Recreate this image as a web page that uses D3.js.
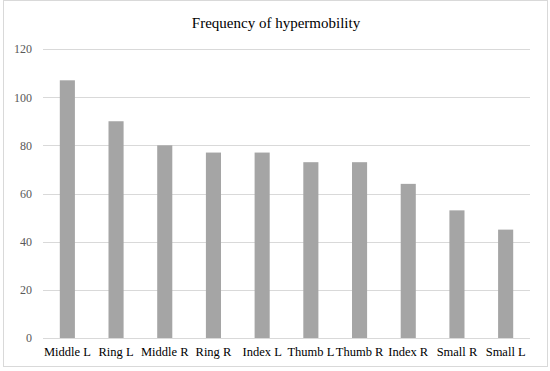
<!DOCTYPE html>
<html>
<head>
<meta charset="utf-8">
<script src="https://d3js.org/d3.v7.min.js"></script>
<style>
body { margin: 0; background: #fff; }
text { font-family: "Liberation Serif", "Times New Roman", serif; }
</style>
</head>
<body>
<div id="chart"></div>
<script>
var width = 550;
var height = 371;

var fingers = ['Middle L', 'Ring L', 'Middle R', 'Ring R', 'Index L', 'Thumb L', 'Thumb R', 'Index R', 'Small R', 'Small L'];
var frequency = [107, 90, 80, 77, 77, 73, 73, 64, 53, 45];
var y_ticks = [0, 20, 40, 60, 80, 100, 120];

var margin = {left: 43, right: 20, top: 49, bottom: 33};

var svg = d3.select('#chart')
	.append('svg')
	.attr('width', width)
	.attr('height', height);

// outer frame
svg.append('rect')
	.attr('x', 3.5)
	.attr('y', 0.5)
	.attr('width', 544)
	.attr('height', 366)
	.attr('fill', 'none')
	.attr('stroke', '#d9d9d9');

var x = d3.scaleBand()
	.domain(fingers)
	.range([margin.left, width - margin.right])
	.paddingInner(0.69)
	.paddingOuter(0.345);

var y = d3.scaleLinear()
	.domain([0, 120])
	.range([height - margin.bottom, margin.top]);

// grid lines
svg.append('g')
	.selectAll('line')
	.data(y_ticks)
	.enter().append('line')
		.attr('x1', margin.left)
		.attr('x2', width - margin.right)
		.attr('y1', (d) => Math.round(y(d)) + 0.5)
		.attr('y2', (d) => Math.round(y(d)) + 0.5)
		.attr('stroke', '#d9d9d9')
		.attr('stroke-width', 1);

// y labels
var y_axis = svg.append('g')
	.attr('transform', 'translate(' + (margin.left - 11) + ',0)')
	.call(d3.axisLeft(y).tickValues(y_ticks).tickSize(0).tickPadding(0));
y_axis.select('.domain').remove();
y_axis.selectAll('text')
	.attr('fill', '#595959')
	.style('font-size', '12px')
	.style('font-family', '"Liberation Serif", serif');

// bars
svg.append('g')
	.selectAll('rect')
	.data(frequency)
	.enter().append('rect')
		.attr('x', (d, i) => x(fingers[i]))
		.attr('y', (d) => y(d))
		.attr('width', x.bandwidth())
		.attr('height', (d) => y(0) - y(d))
		.attr('fill', '#a5a5a5');

// x labels
var x_axis = svg.append('g')
	.attr('transform', 'translate(0,' + y(0) + ')')
	.call(d3.axisBottom(x).tickSize(0).tickPadding(9));
x_axis.select('.domain').remove();
x_axis.selectAll('text')
	.attr('fill', '#000')
	.style('font-size', '12.5px')
	.style('font-family', '"Liberation Serif", serif');

// title
svg.append('text')
	.attr('x', 276)
	.attr('y', 28)
	.attr('text-anchor', 'middle')
	.style('font-size', '15px')
	.attr('fill', '#000')
	.text('Frequency of hypermobility');
</script>
</body>
</html>
